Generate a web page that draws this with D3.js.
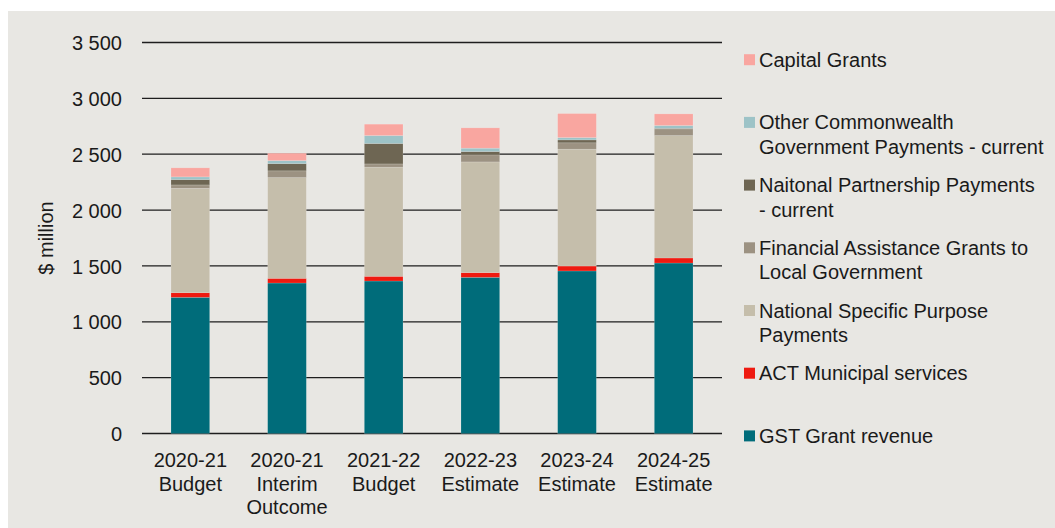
<!DOCTYPE html>
<html>
<head>
<meta charset="utf-8">
<script src="https://cdn.jsdelivr.net/npm/d3@7"></script>
<style>
  html, body { margin: 0; padding: 0; background: #ffffff; }
  svg { display: block; }
  text { font-family: "Liberation Sans", Arial, sans-serif; fill: #1a1a1a; }
</style>
</head>
<body>
<svg id="chart" width="1055" height="528"></svg>
<script>
// ---- Data (values in $ million) ----
const categories = [
  ["2020-21", "Budget"],
  ["2020-21", "Interim", "Outcome"],
  ["2021-22", "Budget"],
  ["2022-23", "Estimate"],
  ["2023-24", "Estimate"],
  ["2024-25", "Estimate"]
];
const seriesNames = [
  "GST Grant revenue",
  "ACT Municipal services",
  "National Specific Purpose Payments",
  "Financial Assistance Grants to Local Government",
  "Naitonal Partnership Payments - current",
  "Other Commonwealth Government Payments - current",
  "Capital Grants"
];
const gstGrant       = [1219, 1347, 1365, 1398, 1455, 1526];
const actMunicipal   = [41, 42, 42, 42, 44, 45];
const nationalSPP    = [935, 902, 977, 991, 1046, 1096];
const financialAssist= [30, 60, 29, 63, 57, 60];
const nationalPartner= [48, 65, 183, 30, 26, 5];
const otherCommon    = [24, 27, 71, 30, 21, 25];
const capitalGrants  = [81, 66, 102, 182, 215, 104];
const yTicks = [0, 500, 1000, 1500, 2000, 2500, 3000, 3500];
const legendLines = [
  ["Capital Grants"],
  ["Other Commonwealth", "Government Payments - current"],
  ["Naitonal Partnership Payments", "- current"],
  ["Financial Assistance Grants to", "Local Government"],
  ["National Specific Purpose", "Payments"],
  ["ACT Municipal services"],
  ["GST Grant revenue"]
];
const colors = ["#006c7a", "#ee1a10", "#c5beab", "#9c9282", "#6e6653", "#9dc3c7", "#f9a6a0"];

// ---- Build table ----
const seriesValues = [gstGrant, actMunicipal, nationalSPP, financialAssist, nationalPartner, otherCommon, capitalGrants];
const keys = seriesNames;
const table = categories.map((c, i) => {
  const row = { cat: c.join(" ") };
  keys.forEach((k, j) => row[k] = seriesValues[j][i]);
  return row;
});

const svg = d3.select("#chart");
svg.append("rect").attr("x", 8).attr("y", 11).attr("width", 1047).attr("height", 517).attr("fill", "#e8e7e3");

const x = d3.scaleBand().domain(table.map(d => d.cat)).range([142, 722]).paddingInner(0.6).paddingOuter(0.3);
const y = d3.scaleLinear().domain([0, 3500]).range([433.5, 42.5]);

// gridlines
svg.append("g").selectAll("line").data(yTicks).join("line")
  .attr("x1", 142).attr("x2", 722)
  .attr("y1", d => y(d)).attr("y2", d => y(d))
  .attr("stroke", "#1e1e1e").attr("stroke-width", 1.3);

// y axis labels
const yAxis = d3.axisLeft(y).tickValues(yTicks).tickSize(0).tickPadding(0)
  .tickFormat(d => d3.format(",")(d).replace(/,/g, "\u2009".replace("\u2009", " ")));
const ya = svg.append("g").attr("transform", "translate(122,0)").call(yAxis);
ya.select(".domain").remove();
ya.selectAll("text").attr("font-size", 20).attr("font-family", "Liberation Sans, Arial, sans-serif").attr("fill", "#1a1a1a").attr("dy", "0.36em");

svg.append("text").attr("transform", "translate(53,238) rotate(-90)")
  .attr("text-anchor", "middle").attr("font-size", 20).text("$ million");

// stacked bars
const stack = d3.stack().keys(keys)(table);
svg.append("g").selectAll("g").data(stack).join("g")
  .attr("fill", (d, i) => colors[i])
  .selectAll("rect").data(d => d).join("rect")
  .attr("x", d => x(d.data.cat))
  .attr("width", x.bandwidth())
  .attr("y", d => y(d[1]))
  .attr("height", d => y(d[0]) - y(d[1]))
  .attr("stroke", "rgba(255,255,255,0.25)").attr("stroke-width", 0.6);

// x labels
const xl = svg.append("g").selectAll("text").data(categories).join("text")
  .attr("x", (d, i) => x(table[i].cat) + x.bandwidth() / 2)
  .attr("y", 467)
  .attr("text-anchor", "middle").attr("font-size", 20);
xl.selectAll("tspan").data(d => d).join("tspan")
  .attr("x", function() { return d3.select(this.parentNode).attr("x"); })
  .attr("dy", (d, i) => i === 0 ? 0 : 23.5)
  .text(d => d);

// legend
const legendColors = colors.slice().reverse();
const lg = svg.append("g").selectAll("g").data(legendLines).join("g")
  .attr("transform", (d, i) => `translate(744,${66.7 + i * 62.7})`);
lg.append("rect").attr("x", 0).attr("y", -12.5).attr("width", 11).attr("height", 11)
  .attr("fill", (d, i) => legendColors[i]);
const lt = lg.append("text").attr("x", 15).attr("y", 0).attr("font-size", 20);
lt.selectAll("tspan").data(d => d).join("tspan")
  .attr("x", 15).attr("dy", (d, i) => i === 0 ? 0 : 24.5).text(d => d);
</script>
</body>
</html>
